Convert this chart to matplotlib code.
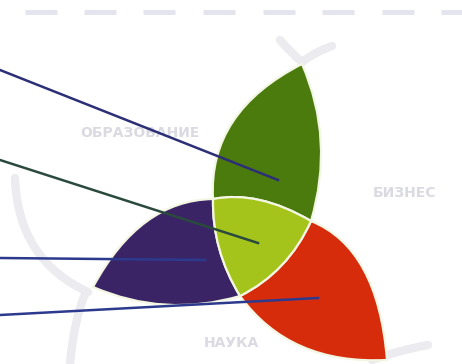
import matplotlib
matplotlib.use('Agg')
import matplotlib.pyplot as plt
from matplotlib.path import Path
import matplotlib.patches as mpatches

# corner points of the centre piece (pixel coords, y down)
A = (213, 199)
B = (311, 221)
C = (240, 296)
# petal tips
tip_green = (302, 64)
tip_purple = (93, 287)
tip_red = (387, 360)

# curve control points for each edge
ctrl = {
    'A_G': (208, 112), 'G_B': (335, 140), 'B_A': (258, 190),
    'A_P': (140, 200), 'P_C': (165, 318), 'C_A': (212, 250),
    'B_R': (378, 248), 'R_C': (290, 365), 'C_B': (288, 272),
}

colors = {'green': '#4b7b0d', 'lime': '#a4c41b', 'purple': '#3a2465', 'red': '#d62c0c'}

# pointer lines: start (left edge) -> end
line_starts = [(0, 70), (0, 160), (0, 258), (0, 315)]
line_ends = [(278, 180), (258, 243), (205, 260), (318, 298)]
line_colors = ['#2d2f76', '#2b4a3e', '#2c3a8e', '#2c3a8e']

labels = ['ОБРАЗОВАНИЕ', 'БИЗНЕС', 'НАУКА']
label_pos = [(140, 133), (404, 193), (231, 343)]

# faint background arcs: start, control, end
bg_arcs = [
    ((15, 178), (18, 260), (88, 292)),
    ((86, 292), (74, 318), (70, 364)),
    ((280, 40), (290, 52), (302, 62)),
    ((302, 62), (315, 52), (332, 46)),
    ((372, 360), (400, 350), (428, 345)),
]

# top dashed strip
dash_x = [25, 84, 143, 203, 263, 322, 382, 441]
dash_len = 32
dash_y = 12


def lens(p0, c0, p1, c1, p2, c2):
    verts = [p0, c0, p1, c1, p2, c2, p0]
    codes = [Path.MOVETO, Path.CURVE3, Path.CURVE3, Path.CURVE3, Path.CURVE3,
             Path.CURVE3, Path.CURVE3]
    return Path(verts, codes)


fig = plt.figure(figsize=(4.62, 3.64), dpi=100)
ax = fig.add_axes([0, 0, 1, 1])
ax.set_xlim(0, 462)
ax.set_ylim(364, 0)
ax.axis('off')

for x in dash_x:
    ax.plot([x, x + dash_len], [dash_y, dash_y], color='#e4e4ef', lw=3.5,
            solid_capstyle='butt', zorder=1)

for s, c, e in bg_arcs:
    p = Path([s, c, e], [Path.MOVETO, Path.CURVE3, Path.CURVE3])
    ax.add_patch(mpatches.PathPatch(p, fill=False, edgecolor='#ebebf0', lw=6,
                                    capstyle='round', zorder=1))

for t, (x, y) in zip(labels, label_pos):
    ax.text(x, y, t, color='#dadae2', fontsize=10, fontweight='bold',
            ha='center', va='center', zorder=2)

edge = '#f3f6e2'
green = lens(A, ctrl['A_G'], tip_green, ctrl['G_B'], B, ctrl['B_A'])
purple = lens(A, ctrl['A_P'], tip_purple, ctrl['P_C'], C, ctrl['C_A'])
red = lens(B, ctrl['B_R'], tip_red, ctrl['R_C'], C, ctrl['C_B'])
centre = lens(A, ctrl['B_A'], B, ctrl['C_B'], C, ctrl['C_A'])
for p, col in [(green, 'green'), (purple, 'purple'), (red, 'red'), (centre, 'lime')]:
    ax.add_patch(mpatches.PathPatch(p, facecolor=colors[col], edgecolor=edge,
                                    lw=1.6, zorder=3))

for s, e, col in zip(line_starts, line_ends, line_colors):
    ax.plot([s[0], e[0]], [s[1], e[1]], color=col, lw=1.8, zorder=4)

fig.savefig('out.png', dpi=100)
